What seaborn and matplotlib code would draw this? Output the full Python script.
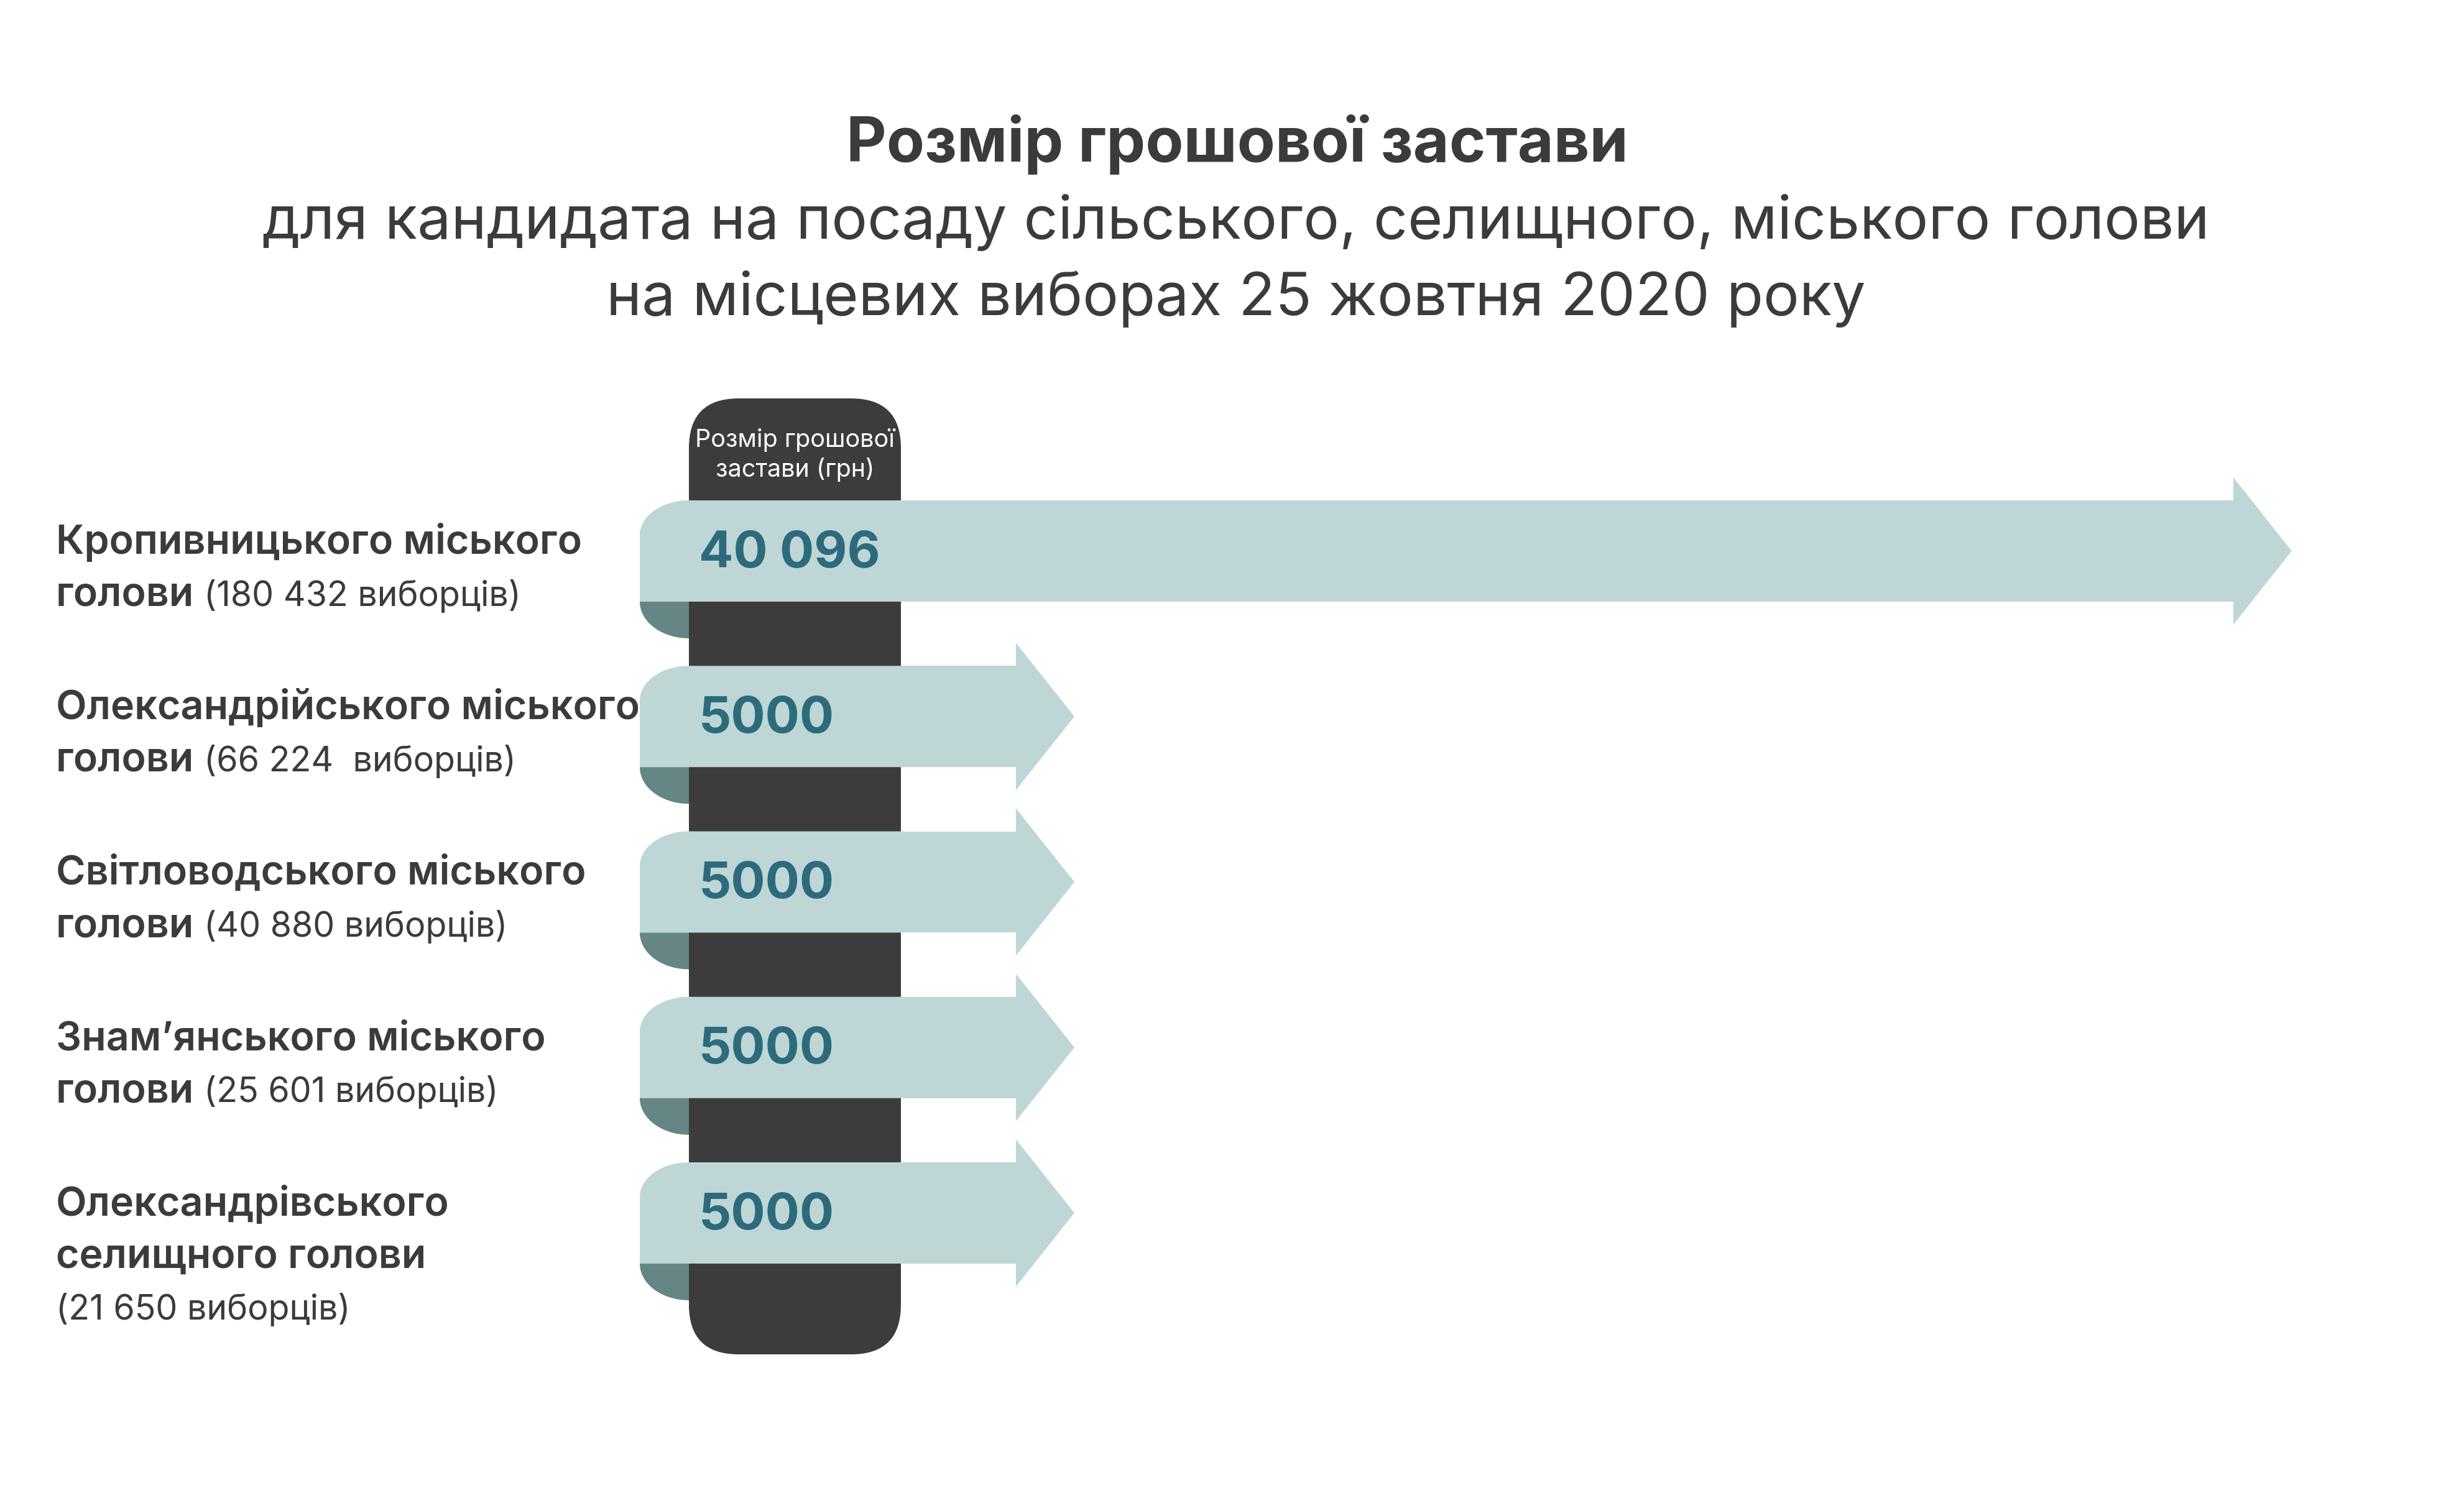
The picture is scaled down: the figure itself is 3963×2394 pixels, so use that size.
import numpy as np
import pandas as pd
import matplotlib
matplotlib.use("Agg")
import matplotlib.pyplot as plt
from matplotlib.patches import Polygon, FancyBboxPatch
import seaborn as sns

W, H = 3963, 2394

# ---- data ----
title = "Розмір грошової застави"
subtitle = ["для кандидата на посаду сільського, селищного, міського голови",
            "на місцевих виборах 25 жовтня 2020 року"]
col_header = ["Розмір грошової", "застави (грн)"]

names = ["Кропивницького міського голови",
         "Олександрійського міського голови",
         "Світловодського міського голови",
         "Знам’янського міського голови",
         "Олександрівського селищного голови"]
line_a = ["Кропивницького міського", "Олександрійського міського",
          "Світловодського міського", "Знам’янського міського",
          "Олександрівського"]
line_b = ["голови", "голови", "голови", "голови", "селищного голови"]
voters = ["180 432", "66 224 ", "40 880", "25 601", "21 650"]
deposit = [40096, 5000, 5000, 5000, 5000]

# colours
light = "#bfd6d6"
fold = "#658685"
dark = "#3c3c3c"
ink = "#3b3b3b"
num_col = "#2c6b7d"

sns.set_theme(style="white")
plt.rcParams["font.family"] = ["Inter", "DejaVu Sans"]

fig = plt.figure(figsize=(W / 100, H / 100), dpi=100)
fig.patch.set_facecolor("white")

ax_bg = fig.add_axes([0, 0, 1, 1])
ax = fig.add_axes([0, 0, 1, 1])
ax_fg = fig.add_axes([0, 0, 1, 1])
for a in (ax_bg, ax_fg):
    a.set_xlim(0, W)
    a.set_ylim(H, 0)
for z, a in enumerate((ax_bg, ax, ax_fg)):
    a.set_zorder(z)
    a.patch.set_alpha(0)

# ---- bars (value axis: 0 = right edge of the dark column) ----
df = pd.DataFrame({"name": names, "deposit": deposit})
sns.barplot(data=df, x="deposit", y="name", orient="h", color=light,
            saturation=1, width=0.612, errorbar=None, linewidth=0, ax=ax)

x0_px = 1449
px_per_unit = 0.05579
row0_px, row_step = 886.5, 266.25
ax.set_xlim(-x0_px / px_per_unit, (W - x0_px) / px_per_unit)
ax.set_ylim((H - row0_px) / row_step, -row0_px / row_step)

head_len = 94 / px_per_unit
head_half = 118.5 / row_step

bars = list(ax.patches)
for p, v in zip(bars, deposit):
    p.set_width(v - 0.9 * head_len)
    yc = p.get_y() + p.get_height() / 2
    ax.add_patch(Polygon([(v - head_len, yc - head_half), (v, yc),
                          (v - head_len, yc + head_half)],
                         closed=True, fc=light, ec="none", lw=0))

for a in (ax_bg, ax, ax_fg):
    a.axis("off")


def to_px(x, y):
    dx, dy = ax.transData.transform((x, y))
    return dx, H - dy


# dark column
col_r = to_px(0, 0)[0]
col_w = 341
col_l = col_r - col_w
ax_bg.add_patch(FancyBboxPatch((col_l, 641), col_w, 2179 - 641,
                               boxstyle="round,pad=0,rounding_size=80",
                               fc=dark, ec="none"))

# rounded left end of every bar + folded part under it
t = np.linspace(0, np.pi / 2, 40)
xl = col_l - 79
for p in bars:
    top = to_px(0, p.get_y())[1]
    bot = to_px(0, p.get_y() + p.get_height())[1]
    rx, ry = col_l - xl, 56
    cx, cy = xl + rx, top + ry
    arc = list(zip(cx - rx * np.cos(t), cy - ry * np.sin(t)))
    ax_fg.add_patch(Polygon([(xl, bot)] + arc + [(col_r + 6, top), (col_r + 6, bot)],
                            closed=True, fc=light, ec="none", lw=0))
    arc2 = list(zip(col_l - rx * np.cos(t), bot + 59 * np.sin(t)))
    ax_fg.add_patch(Polygon([(col_l, bot)] + arc2, closed=True,
                            fc=fold, ec="none", lw=0))

# ---- texts ----
ax_fg.text(1990, 260, title, ha="center", va="baseline", fontsize=72,
           fontweight="bold", color=ink)
ax_fg.text(1988, 384, subtitle[0], ha="center", va="baseline", fontsize=69.5, color=ink)
ax_fg.text(1988, 507, subtitle[1], ha="center", va="baseline", fontsize=69.5, color=ink)

col_c = (col_l + col_r) / 2
ax_fg.text(col_c, 719, col_header[0], ha="center", va="baseline", fontsize=28.5, color="white")
ax_fg.text(col_c, 767, col_header[1], ha="center", va="baseline", fontsize=28.5, color="white")

renderer = fig.canvas.get_renderer()
for i, (p, v) in enumerate(zip(bars, deposit)):
    yc = to_px(0, p.get_y() + p.get_height() / 2)[1]
    label = f"{v:,}".replace(",", " ") if v >= 10000 else str(v)
    ax_fg.text(col_l + 16, yc + 26, label, va="baseline", fontsize=59,
               fontweight="bold", color=num_col)

    ax_fg.text(90, yc + 4, line_a[i], va="baseline", fontsize=46.5,
               fontweight="semibold", color=ink)
    tb = ax_fg.text(90, yc + 88, line_b[i], va="baseline", fontsize=46.5,
                    fontweight="semibold", color=ink)
    vtxt = f"({voters[i]} виборців)"
    if i == len(names) - 1:
        ax_fg.text(90, yc + 172, vtxt, va="baseline", fontsize=40, color=ink)
    else:
        bb = tb.get_window_extent(renderer=renderer)
        ax_fg.text(bb.x1 + 16, yc + 88, vtxt, va="baseline", fontsize=40, color=ink)

fig.savefig("out.png", dpi=100, facecolor="white")
